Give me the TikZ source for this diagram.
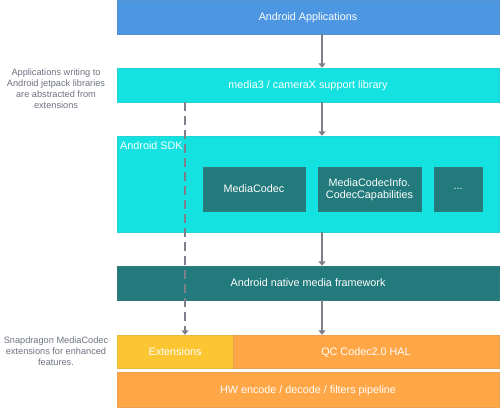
\documentclass[tikz,border=0pt]{standalone}
\usepackage{fontspec}
\setmainfont{Liberation Sans}
\usetikzlibrary{arrows.meta}
\definecolor{cblue}{HTML}{4C96E2}
\definecolor{ccyan}{HTML}{14E2E0}
\definecolor{cteal}{HTML}{237A7C}
\definecolor{cyel}{HTML}{FBC631}
\definecolor{corange}{HTML}{FFA646}
\definecolor{carrow}{HTML}{7D808A}
\definecolor{cside}{HTML}{6E7380}
\tikzset{
  layer/.style={draw=#1!85!gray, line width=0.4pt, fill=#1, text=white, inner sep=0pt, font=\fontsize{10.8}{12.5}\selectfont},
  oneline/.style={text depth=0pt},
  sidetext/.style={text=cside, align=center, font=\fontsize{9.2}{11}\selectfont},
  flow/.style={draw=carrow, line width=1.4pt, -{Triangle[width=7pt,length=4.5pt]}},
  dflow/.style={draw=carrow, line width=1.4pt, dash pattern=on 9pt off 5pt, -{Triangle[width=7pt,length=4.5pt]}}
}
\begin{document}
\begin{tikzpicture}[x=1pt,y=-1pt]
\useasboundingbox (0,0) rectangle (500,407);
\fill[white] (0,0) rectangle (500,407);
% layers
\node[layer=cblue, oneline, minimum width=382pt, minimum height=34pt] (app) at (308,17) {Android Applications};
\node[layer=ccyan, oneline, minimum width=382pt, minimum height=34pt] (lib) at (308,85) {media3 / cameraX support library};
\node[layer=ccyan, minimum width=382pt, minimum height=96pt] (sdk) at (308,184) {};
\node[text=white, anchor=west, inner sep=0pt, font=\fontsize{10.8}{12.5}\selectfont] (sdklabel) at (120,146) {Android SDK};
\node[layer=cteal, oneline, minimum width=102pt, minimum height=44pt] (mc) at (254,189) {MediaCodec};
\node[layer=cteal, minimum width=103pt, minimum height=44pt, align=center] (mci) at (369.5,189.5) {MediaCodecInfo.\\CodecCapabilities};
\node[layer=cteal, oneline, minimum width=48pt, minimum height=44pt] (dots) at (458,189) {...};
\node[layer=cteal, oneline, minimum width=382pt, minimum height=34pt] (native) at (308,283) {Android native media framework};
\node[layer=cyel, oneline, minimum width=116pt, minimum height=33pt] (ext) at (175,351.5) {Extensions};
\node[layer=corange, oneline, minimum width=266pt, minimum height=33pt] (hal) at (366,351.5) {QC Codec2.0 HAL};
\node[layer=corange, oneline, minimum width=382pt, minimum height=35pt] (hw) at (308,389.5) {HW encode / decode / filters pipeline};
% side notes
\node[sidetext] (note1) at (56,88.5) {Applications writing to\\Android jetpack libraries\\are abstracted from\\extensions};
\node[sidetext] (note2) at (56,351) {Snapdragon MediaCodec\\extensions for enhanced\\features.};
% arrows
\draw[flow] (app.south -| 322,0) -- (lib.north -| 322,0);
\draw[flow] (lib.south -| 322,0) -- (sdk.north -| 322,0);
\draw[flow] (sdk.south -| 322,0) -- (native.north -| 322,0);
\draw[flow] (native.south -| 322,0) -- (hal.north -| 322,0);
\draw[dflow] (lib.south -| 185,0) -- (ext.north -| 185,0);
\end{tikzpicture}
\end{document}
